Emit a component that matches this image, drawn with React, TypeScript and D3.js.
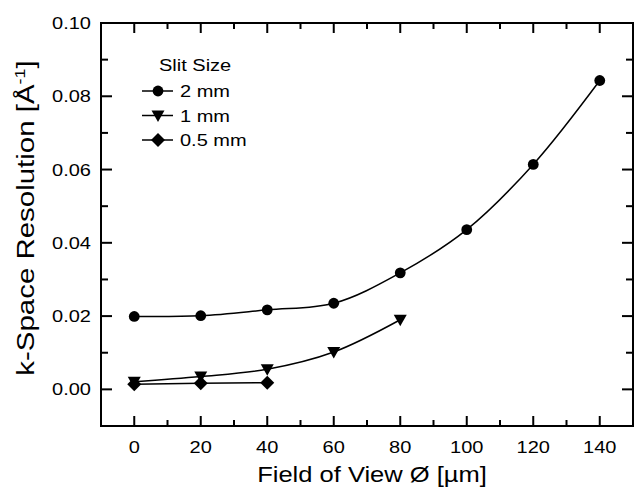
import React from 'react';
import * as d3 from 'd3';

// data
const fieldOfView = [0, 20, 40, 60, 80, 100, 120, 140];
const slit2mm = [0.0199, 0.0201, 0.0217, 0.0235, 0.0318, 0.0436, 0.0614, 0.0843];
const slit1mm = [0.0021, 0.0035, 0.0055, 0.0102, 0.0190];
const slit05mm = [0.0014, 0.0017, 0.0018];

const seriesNames = ['2 mm', '1 mm', '0.5 mm'];
const xTicks = [0, 20, 40, 60, 80, 100, 120, 140];
const yTicks = [0.0, 0.02, 0.04, 0.06, 0.08, 0.1];

const width = 636;
const height = 489;
const left = 101;
const right = 633;
const top = 23;
const bottom = 426;

const font = 'Arial, "Liberation Sans", sans-serif';

// the original's lettering is wider than Arial, so stretch it a bit
function T({ x, y, sx = 1.25, size = 16, anchor = 'start', children }: any) {
  return (
    <text transform={`translate(${x},${y}) scale(${sx},1)`} textAnchor={anchor} fontFamily={font} fontSize={size}>
      {children}
    </text>
  );
}

export default function App() {
  const x = d3.scaleLinear().domain([-10, 150]).range([left, right]);
  const y = d3.scaleLinear().domain([-0.01, 0.1]).range([bottom, top]);

  const xMinor = d3.range(-10, 151, 10);
  const yMinor = d3.range(-0.01, 0.1001, 0.01);

  const smooth = d3.line<[number, number]>()
    .x(d => x(d[0]))
    .y(d => y(d[1]))
    .curve(d3.curveCatmullRom.alpha(0.5));
  const straight = d3.line<[number, number]>()
    .x(d => x(d[0]))
    .y(d => y(d[1]));

  const pts = (vals: number[]) => vals.map((v, i) => [fieldOfView[i], v] as [number, number]);

  const circle = (cx: number, cy: number, k: string) => <circle key={k} cx={cx} cy={cy} r={5.4} fill="black" />;
  const tri = (cx: number, cy: number, k: string) => (
    <path key={k} d={`M${cx - 6.5},${cy - 5} L${cx + 6.5},${cy - 5} L${cx},${cy + 6.5} Z`} fill="black" />
  );
  const diamond = (cx: number, cy: number, k: string) => (
    <path key={k} d={`M${cx},${cy - 7} L${cx + 7},${cy} L${cx},${cy + 7} L${cx - 7},${cy} Z`} fill="black" />
  );
  const markers = [circle, tri, diamond];

  return (
    <svg width={width} height={height} style={{ position: 'absolute', left: 0, top: 0, background: 'white' }}>
      {/* curves */}
      <path d={smooth(pts(slit2mm)) || ''} fill="none" stroke="black" strokeWidth={1.5} />
      <path d={smooth(pts(slit1mm)) || ''} fill="none" stroke="black" strokeWidth={1.5} />
      <path d={straight(pts(slit05mm)) || ''} fill="none" stroke="black" strokeWidth={1.5} />

      {slit2mm.map((v, i) => circle(x(fieldOfView[i]), y(v), 'c' + i))}
      {slit1mm.map((v, i) => tri(x(fieldOfView[i]), y(v), 't' + i))}
      {slit05mm.map((v, i) => diamond(x(fieldOfView[i]), y(v), 'd' + i))}

      {/* frame */}
      <rect x={left} y={top} width={right - left} height={bottom - top} fill="none" stroke="black" strokeWidth={2} />

      {/* ticks point inward on all four sides */}
      {xMinor.map(t => {
        const major = xTicks.includes(Math.round(t));
        const len = major ? 10 : 6;
        return (
          <g key={'xt' + t}>
            <line x1={x(t)} x2={x(t)} y1={bottom} y2={bottom - len} stroke="black" strokeWidth={2} />
            <line x1={x(t)} x2={x(t)} y1={top} y2={top + len} stroke="black" strokeWidth={2} />
          </g>
        );
      })}
      {yMinor.map((t, i) => {
        const major = Math.abs(Math.round(t * 100) % 2) === 0;
        const len = major ? 11 : 7;
        return (
          <g key={'yt' + i}>
            <line x1={left} x2={left + len} y1={y(t)} y2={y(t)} stroke="black" strokeWidth={2} />
            <line x1={right} x2={right - len} y1={y(t)} y2={y(t)} stroke="black" strokeWidth={2} />
          </g>
        );
      })}

      {xTicks.map(t => (
        <T key={'xl' + t} x={x(t)} y={453} anchor="middle">{t}</T>
      ))}
      {yTicks.map(t => (
        <T key={'yl' + t} x={91} y={y(t) + 6} anchor="end">{t.toFixed(2)}</T>
      ))}

      {/* axis titles */}
      <T x={372} y={482} size={22} sx={1.16} anchor="middle">Field of View Ø [µm]</T>
      <g transform="translate(34,218) rotate(-90)">
        <T x={0} y={0} size={23} sx={1.28} anchor="middle">
          k-Space Resolution [Å<tspan dy={-9} fontSize={14}>-1</tspan><tspan dy={9}>]</tspan>
        </T>
      </g>

      {/* legend */}
      <T x={159} y={71}>Slit Size</T>
      {seriesNames.map((name, i) => {
        const cy = 91 + i * 24.5;
        return (
          <g key={'lg' + i}>
            <line x1={142} x2={173} y1={cy} y2={cy} stroke="black" strokeWidth={1.5} />
            {markers[i](158, cy, 'lm' + i)}
            <T x={180} y={cy + 6}>{name}</T>
          </g>
        );
      })}
    </svg>
  );
}
